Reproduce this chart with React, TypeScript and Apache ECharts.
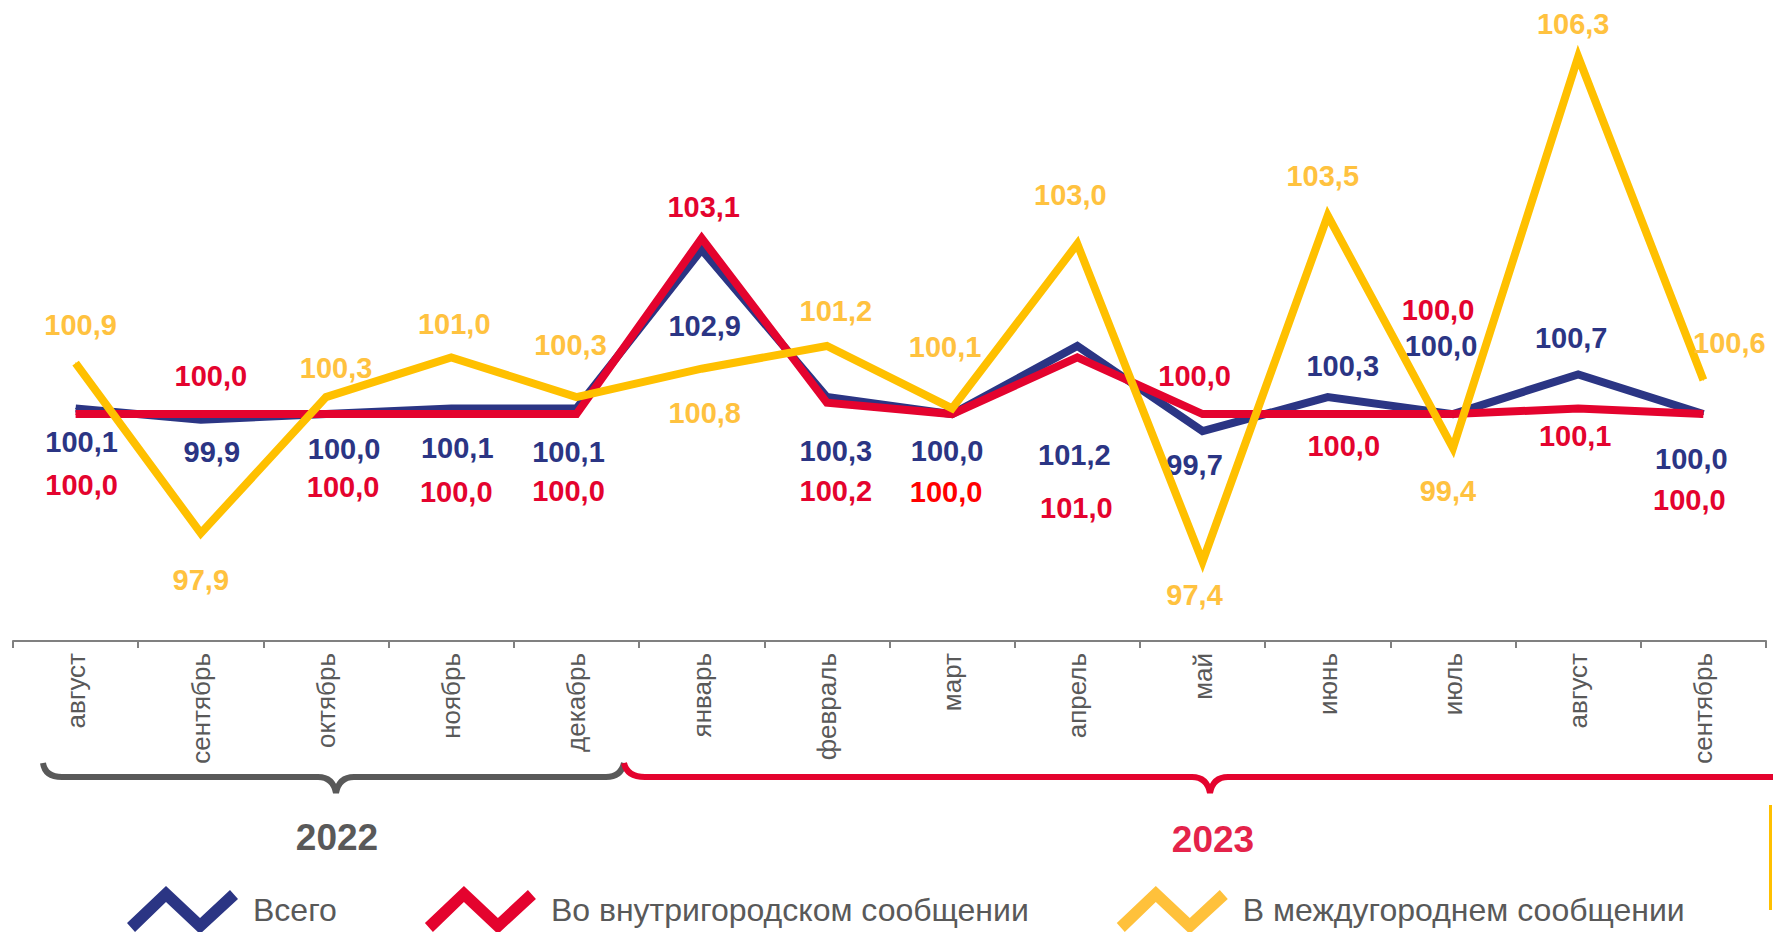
import React, { useEffect, useRef } from "react";
import * as echarts from "echarts";

const categories = [
  "август", "сентябрь", "октябрь", "ноябрь", "декабрь",
  "январь", "февраль", "март", "апрель", "май", "июнь", "июль", "август", "сентябрь",
];
const seriesNames = ["Всего", "Во внутригородском сообщении", "В междугороднем сообщении"];
const totalValues = [100.1, 99.9, 100.0, 100.1, 100.1, 102.9, 100.3, 100.0, 101.2, 99.7, 100.3, 100.0, 100.7, 100.0];
const urbanValues = [100.0, 100.0, 100.0, 100.0, 100.0, 103.1, 100.2, 100.0, 101.0, 100.0, 100.0, 100.0, 100.1, 100.0];
const intercityValues = [100.9, 97.9, 100.3, 101.0, 100.3, 100.8, 101.2, 100.1, 103.0, 97.4, 103.5, 99.4, 106.3, 100.6];
const years = ["2022", "2023"];

// label offsets (px) relative to each point
const totalOffsets = [[6, 34], [11, 32], [18, 35], [6, 40], [-8, 44], [3, 76], [9, 54], [-5, 37], [-3, 109], [-8, 34], [15, -31], [-12, -68], [-7, -36], [-12, 45]];
const urbanOffsets = [[6, 71], [10, -38], [17, 73], [5, 78], [-8, 77], [2, -31], [9, 88], [-6, 78], [-1, 151], [-8, -38], [16, 32], [-15, -104], [-3, 28], [-14, 86]];
const intercityOffsets = [[5, -38], [0, 47], [10, -29], [3, -33], [-6, -52], [3, 44], [9, -35], [-7, -61], [-7, -49], [-8, 33], [-5, -40], [-5, 43], [-5, -33], [26, -37]];

const NAVY = "#2B3584";
const RED = "#E4032E";
const YELLOW = "#FFC000";
const YELLOW_LABEL = "#FFC23F";
const GRAY = "#595959";
const FONT = '"Liberation Sans", Arial, sans-serif';

const ICON = "path://M1 37 L40 0 L74 32 L104 4 L112 13 L74 48 L40 16 L9 46 Z";

const BRACE_GRAY = "M43 763 Q45 777 62 777 L318 777 Q333 777 336 793 Q339 777 354 777 L606 777 Q621 777 624 763";
const BRACE_RED = "M624 763 Q627 777 645 777 L1192 777 Q1207 777 1210 793 Q1213 777 1228 777 L1780 777";

let registered = false;
function registerShapes() {
  if (registered) return;
  echarts.graphic.registerShape("braceGray", echarts.graphic.extendPath(BRACE_GRAY, {}));
  echarts.graphic.registerShape("braceRed", echarts.graphic.extendPath(BRACE_RED, {}));
  registered = true;
}

const fmt = (p: any) => Number(p.value).toFixed(1).replace(".", ",");

function buildData(values: number[], offsets: number[][], colorOverride?: Record<number, string>) {
  return values.map((v, i) => {
    const label: any = { offset: offsets[i] };
    if (colorOverride && colorOverride[i]) label.color = colorOverride[i];
    return { value: v, label };
  });
}

function lineSeries(name: string, data: any[], color: string, labelColor: string, z: number) {
  return {
    type: "line",
    name,
    data,
    z,
    symbol: "circle",
    symbolSize: 1,
    showSymbol: true,
    itemStyle: { color },
    lineStyle: { color, width: 8, join: "miter" },
    label: {
      show: true,
      position: "inside",
      formatter: fmt,
      color: labelColor,
      fontSize: 29,
      fontWeight: "bold",
      fontFamily: FONT,
      align: "center",
      verticalAlign: "middle",
    },
    emphasis: { disabled: true },
  };
}

export default function App() {
  const ref = useRef<HTMLDivElement>(null);
  useEffect(() => {
    document.body.style.margin = "0";
    document.body.style.overflow = "hidden";
    registerShapes();
    const chart = echarts.init(ref.current!, undefined, { renderer: "svg" });
    chart.setOption({
      animation: false,
      backgroundColor: "#ffffff",
      grid: { left: 13, right: 7, top: 0, bottom: 291, containLabel: false },
      xAxis: {
        type: "category",
        data: categories,
        boundaryGap: true,
        axisLine: { show: true, lineStyle: { color: "#808080", width: 2 } },
        axisTick: { show: true, length: 7, lineStyle: { color: "#808080", width: 2 }, interval: 0 },
        axisLabel: {
          interval: 0,
          rotate: 90,
          margin: 12,
          fontSize: 26,
          color: GRAY,
          fontFamily: FONT,
        },
        splitLine: { show: false },
      },
      yAxis: {
        type: "value",
        min: 96,
        max: 107.3,
        show: false,
        splitLine: { show: false },
      },
      legend: {
        left: 122,
        top: 881,
        itemWidth: 113,
        itemHeight: 48,
        itemGap: 88,
        icon: ICON,
        selectedMode: false,
        textStyle: { fontSize: 32, color: GRAY, fontFamily: FONT, padding: [0, 0, 0, 9] },
        data: [
          { name: seriesNames[0], itemStyle: { color: NAVY } },
          { name: seriesNames[1], itemStyle: { color: RED } },
          { name: seriesNames[2], itemStyle: { color: "#FFC13B" } },
        ],
      },
      series: [
        lineSeries(seriesNames[0], buildData(totalValues, totalOffsets), NAVY, NAVY, 2),
        lineSeries(seriesNames[1], buildData(urbanValues, urbanOffsets, { 7: "#FF0000" }), RED, RED, 3),
        lineSeries(seriesNames[2], buildData(intercityValues, intercityOffsets), YELLOW, YELLOW_LABEL, 4),
      ],
      graphic: [
        { type: "braceGray", x: 0, y: 0, style: { stroke: GRAY, lineWidth: 6, fill: "none" }, silent: true },
        { type: "braceRed", x: 0, y: 0, style: { stroke: RED, lineWidth: 6, fill: "none" }, silent: true },
        {
          type: "text", x: 337, y: 837, silent: true,
          style: { text: years[0], fill: GRAY, font: `bold 37px ${FONT}`, align: "center", verticalAlign: "middle" },
        },
        {
          type: "text", x: 1213, y: 839, silent: true,
          style: { text: years[1], fill: "#E4234A", font: `bold 37px ${FONT}`, align: "center", verticalAlign: "middle" },
        },
        { type: "rect", shape: { x: 1769, y: 805, width: 3, height: 105 }, style: { fill: YELLOW }, silent: true },
      ],
    });
    return () => chart.dispose();
  }, []);
  return <div ref={ref} style={{ width: 1773, height: 932 }} />;
}
